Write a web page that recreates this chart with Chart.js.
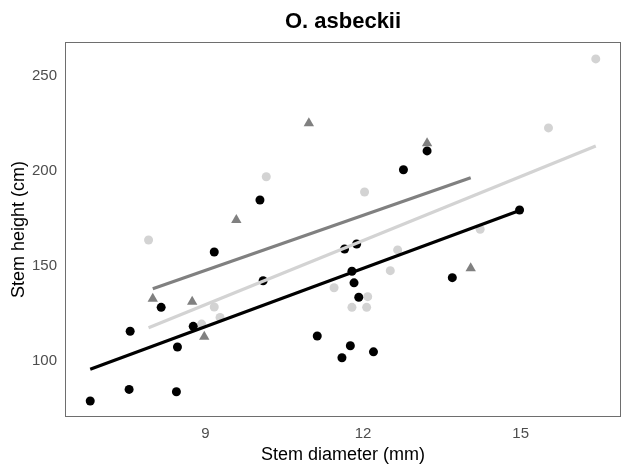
<!DOCTYPE html>
<html>
<head>
<meta charset="utf-8">
<script src="https://cdn.jsdelivr.net/npm/chart.js@4/dist/chart.umd.min.js"></script>
<style>
  body { margin: 0; background: #fff; }
  canvas { display: block; }
</style>
</head>
<body>
<canvas id="chart" width="627" height="473"></canvas>
<script>
const TITLE = 'O. asbeckii';

// black circles
const blackX = [6.81, 7.55, 8.45, 7.57, 8.47, 8.77, 8.16, 9.17, 10.04, 10.10, 11.13, 11.60, 11.76, 12.20, 11.65, 11.88, 11.79, 11.83, 11.92, 12.77, 13.22, 13.70, 14.98];
const blackY = [78.8, 84.9, 83.7, 115.5, 107.2, 118.1, 128.1, 157.2, 184.6, 142.1, 113.0, 101.6, 107.9, 104.7, 158.8, 161.4, 147.1, 141.0, 133.4, 200.5, 210.4, 143.7, 179.3];

// light grey circles
const lightX = [7.92, 10.16, 16.43, 15.53, 12.03, 14.23, 11.45, 9.17, 9.28, 8.93, 12.66, 12.52, 12.09, 11.79, 12.07];
const lightY = [163.5, 196.8, 258.8, 222.5, 188.8, 169.2, 138.4, 128.3, 122.8, 119.3, 158.3, 147.4, 133.7, 128.1, 128.1];

// grey triangles
const triX = [10.97, 9.59, 8.00, 8.75, 8.98, 13.22, 14.05];
const triY = [224.9, 174.0, 132.6, 131.1, 112.6, 214.4, 148.6];

// fitted lines (end points)
const blackFitX = [6.81, 14.98];
const blackFitY = [95.5, 179.0];
const lightFitX = [7.92, 16.43];
const lightFitY = [117.4, 213.0];
const grayFitX = [8.00, 14.05];
const grayFitY = [137.9, 196.3];

const xTicks = [9, 12, 15];
const yTicks = [100, 150, 200, 250];

const BLACK = '#000000';
const LIGHT = '#d3d3d3';
const GRAY = '#808080';

function pts(xs, ys) {
    return xs.map((x, i) => ({ x: x, y: ys[i] }));
}

function fitLine(xs, ys, color) {
    return {
        type: 'line',
        data: pts(xs, ys),
        borderColor: color,
        borderWidth: 3.2,
        pointRadius: 0,
        fill: false,
        showLine: true
    };
}

function scatter(xs, ys, color, style, r) {
    return {
        data: pts(xs, ys),
        backgroundColor: color,
        borderColor: color,
        borderWidth: 0,
        pointStyle: style,
        pointRadius: r,
        pointHoverRadius: r
    };
}

// panel border + title centred over panel
const panelPlugin = {
    id: 'panel',
    afterDatasetsDraw(chart) {
        const a = chart.chartArea;
        const ctx = chart.ctx;
        ctx.save();
        ctx.strokeStyle = '#6e6e6e';
        ctx.lineWidth = 1;
        ctx.strokeRect(a.left + 0.5, a.top + 0.5, a.right - a.left - 1, a.bottom - a.top - 1);
        ctx.fillStyle = '#000';
        ctx.font = 'bold 22px "Liberation Sans", Arial, sans-serif';
        ctx.textAlign = 'center';
        ctx.textBaseline = 'middle';
        ctx.fillText(TITLE, (a.left + a.right) / 2, 22);
        ctx.restore();
    }
};

new Chart(document.getElementById('chart'), {
    type: 'scatter',
    data: {
        datasets: [
            fitLine(blackFitX, blackFitY, BLACK),
            fitLine(grayFitX, grayFitY, GRAY),
            fitLine(lightFitX, lightFitY, LIGHT),
            scatter(blackX, blackY, BLACK, 'circle', 4.5),
            scatter(triX, triY, GRAY, 'triangle', 6),
            scatter(lightX, lightY, LIGHT, 'circle', 4.5)
        ]
    },
    options: {
        responsive: false,
        animation: false,
        layout: { padding: { top: 42, right: 5, left: 0, bottom: 0 } },
        plugins: {
            legend: { display: false },
            tooltip: { enabled: false }
        },
        scales: {
            x: {
                type: 'linear',
                min: 6.33,
                max: 16.91,
                grid: { display: false, drawTicks: false },
                border: { display: false },
                afterBuildTicks: (s) => { s.ticks = xTicks.map(v => ({ value: v })); },
                afterFit: (s) => { s.height = 56; },
                ticks: {
                    color: '#4d4d4d',
                    padding: 8,
                    maxRotation: 0,
                    font: { family: '"Liberation Sans", Arial, sans-serif', size: 15 }
                },
                title: {
                    display: true,
                    text: 'Stem diameter (mm)',
                    color: '#000',
                    padding: { top: 0, bottom: 7 },
                    font: { family: '"Liberation Sans", Arial, sans-serif', size: 18 }
                }
            },
            y: {
                type: 'linear',
                min: 70.4,
                max: 267.7,
                grid: { display: false, drawTicks: false },
                border: { display: false },
                afterBuildTicks: (s) => { s.ticks = yTicks.map(v => ({ value: v })); },
                afterFit: (s) => { s.width = 65; },
                ticks: {
                    color: '#4d4d4d',
                    padding: 8,
                    font: { family: '"Liberation Sans", Arial, sans-serif', size: 15 }
                },
                title: {
                    display: true,
                    text: 'Stem height (cm)',
                    color: '#000',
                    padding: { top: 8, bottom: 0 },
                    font: { family: '"Liberation Sans", Arial, sans-serif', size: 18 }
                }
            }
        }
    },
    plugins: [panelPlugin]
});
</script>
</body>
</html>
